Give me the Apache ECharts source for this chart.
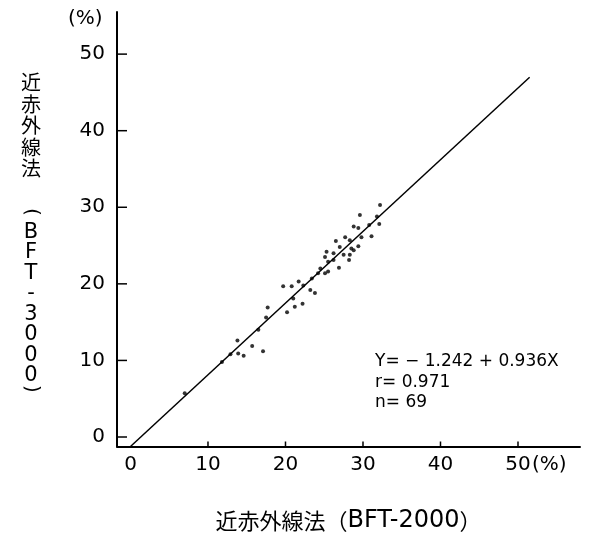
<!DOCTYPE html>
<html>
<head>
<meta charset="utf-8">
<script src="https://cdn.jsdelivr.net/npm/echarts@6.0.0/dist/echarts.min.js"></script>
<style>
  html, body { margin: 0; padding: 0; background: #fff; }
  #chart { width: 592px; height: 536px; }
</style>
</head>
<body>
<div id="chart"></div>
<script>
// tick range
var tickMin = 0;
var tickMax = 50;
var tickStep = 10;
var xTickValues = [10, 20, 30, 40, 50];
var yTickValues = [0, 10, 20, 30, 40, 50];

// BFT-2000 (x) vs BFT-3000 (y)
var bft2000 = [7.0, 11.8, 12.9, 13.8, 13.9, 14.6, 15.7, 17.1, 16.5, 17.5, 17.7, 19.7, 20.8, 21.7, 21.0, 21.2, 20.2, 22.2, 22.3, 23.2, 23.8, 23.4, 24.2, 24.5, 25.1, 25.5, 26.9, 25.5, 26.2, 25.1, 26.2, 25.3, 27.5, 28.3, 28.2, 27.0, 26.5, 28.3, 28.5, 28.8, 29.4, 27.7, 29.8, 31.1, 30.8, 28.8, 29.4, 32.1, 31.8, 29.6, 32.2];
var bft3000 = [5.7, 9.8, 10.8, 12.6, 10.9, 10.6, 11.9, 11.2, 14.0, 15.6, 16.9, 19.7, 19.7, 20.3, 18.1, 17.0, 16.3, 17.4, 19.8, 19.2, 18.8, 20.7, 21.4, 22.0, 21.4, 21.6, 22.1, 22.9, 23.1, 23.5, 24.0, 24.2, 23.8, 23.8, 23.1, 24.8, 25.6, 25.7, 24.6, 24.4, 24.9, 26.1, 26.1, 26.2, 27.7, 27.5, 27.3, 27.8, 28.8, 29.0, 30.3];

// regression line end points
var fitX = [0, 51.5];
var fitY = [-1.24, 46.97];

var points = bft2000.map(function (x, i) { return [x, bft3000[i]]; });
var fitLine = fitX.map(function (x, i) { return [x, fitY[i]]; });

var xMin = -1.74, xMax = 58;
var yMin = -1.24, yMax = 55.5;

var cjk = '"Noto Sans CJK JP"';
var latin = '"DejaVu Sans"';

// inward tick marks, placed through the plot's own scales
function xTick(params, api) {
    var p = api.coord([api.value(0), yMin]);
    return { type: 'line', shape: { x1: p[0], y1: p[1], x2: p[0], y2: p[1] - 5 }, style: { stroke: '#000', lineWidth: 1.5 } };
}
function yTick(params, api) {
    var p = api.coord([xMin, api.value(0)]);
    return { type: 'line', shape: { x1: p[0], y1: p[1], x2: p[0] + 10, y2: p[1] }, style: { stroke: '#000', lineWidth: 1.5 } };
}

// plot box: x from -1.74 to 58, y from -1.24 to 55.5 (7.75 px / 7.66 px per unit)
// the two thin extra grids share that scale and only carry the tick labels
var chart = echarts.init(document.getElementById('chart'));
chart.setOption({
    backgroundColor: '#fff',
    animation: false,
    grid: [
        { left: 117, top: 12, right: 12, bottom: 89.5, containLabel: false, outerBoundsMode: 'none' },
        { left: 130.5, top: 441.5, right: 74, bottom: 89.5, containLabel: false, outerBoundsMode: 'none' },
        { left: 117, top: 54, right: 465, bottom: 99, containLabel: false, outerBoundsMode: 'none' }
    ],
    xAxis: [
        {
            gridIndex: 0,
            type: 'value',
            min: xMin,
            max: xMax,
            splitLine: { show: false },
            axisLine: { onZero: false, lineStyle: { color: '#000', width: 2 } },
            axisTick: { show: false },
            axisLabel: { show: false },
            name: '近赤外線法（{l|BFT-2000}）',
            nameLocation: 'middle',
            nameGap: 62,
            nameTextStyle: {
                color: '#000',
                fontFamily: 'Noto Sans CJK JP',
                fontSize: 22,
                rich: {
                    l: { fontFamily: 'DejaVu Sans', fontSize: 24, color: '#000' }
                }
            }
        },
        {
            gridIndex: 1,
            type: 'value',
            min: tickMin,
            max: tickMax,
            interval: tickStep,
            splitLine: { show: false },
            axisLine: { show: false, onZero: false },
            axisTick: { show: false },
            axisLabel: { margin: 8, color: '#000', fontFamily: 'DejaVu Sans', fontSize: 20 }
        },
        { gridIndex: 2, type: 'value', show: false }
    ],
    yAxis: [
        {
            gridIndex: 0,
            type: 'value',
            min: yMin,
            max: yMax,
            splitLine: { show: false },
            axisLine: { onZero: false, lineStyle: { color: '#000', width: 2 } },
            axisTick: { show: false },
            axisLabel: { show: false }
        },
        { gridIndex: 1, type: 'value', show: false },
        {
            gridIndex: 2,
            type: 'value',
            min: tickMin,
            max: tickMax,
            interval: tickStep,
            splitLine: { show: false },
            axisLine: { show: false, onZero: false },
            axisTick: { show: false },
            axisLabel: { margin: 12, color: '#000', fontFamily: 'DejaVu Sans', fontSize: 20 }
        }
    ],
    graphic: [
        // y axis title, written vertically
        { type: 'text', left: 21, top: 72, style: { text: '近\n赤\n外\n線\n法', fill: '#000', font: '20px ' + cjk, lineHeight: 21.5 } },
        { type: 'text', x: 31, y: 212, rotation: -Math.PI / 2, style: { text: '(', fill: '#000', font: '20px ' + latin, align: 'center', verticalAlign: 'middle' } },
        { type: 'text', x: 31, y: 222, style: { text: 'B\nF\nT\n-\n3\n0\n0\n0', fill: '#000', font: '21px ' + latin, lineHeight: 20.5, align: 'center' } },
        { type: 'text', x: 31, y: 389, rotation: -Math.PI / 2, style: { text: ')', fill: '#000', font: '20px ' + latin, align: 'center', verticalAlign: 'middle' } },
        // units
        { type: 'text', left: 68, top: 9, style: { text: '(%)', fill: '#000', font: '20px ' + latin } },
        { type: 'text', left: 532, top: 455, style: { text: '(%)', fill: '#000', font: '20px ' + latin } },
        // regression statistics
        { type: 'text', left: 375, top: 353, style: { text: 'Y= − 1.242 + 0.936X', fill: '#000', font: '17px ' + latin } },
        { type: 'text', left: 375, top: 374, style: { text: 'r= 0.971', fill: '#000', font: '17px ' + latin } },
        { type: 'text', left: 375, top: 394, style: { text: 'n= 69', fill: '#000', font: '17px ' + latin } }
    ],
    series: [
        {
            type: 'custom',
            xAxisIndex: 0,
            yAxisIndex: 0,
            data: xTickValues.map(function (v) { return [v]; }),
            renderItem: xTick,
            clip: false,
            silent: true,
            z: 4
        },
        {
            type: 'custom',
            xAxisIndex: 0,
            yAxisIndex: 0,
            data: yTickValues.map(function (v) { return [v]; }),
            renderItem: yTick,
            clip: false,
            silent: true,
            z: 4
        },
        {
            type: 'line',
            xAxisIndex: 0,
            yAxisIndex: 0,
            data: fitLine,
            symbol: 'none',
            lineStyle: { color: '#000', width: 1.5 },
            z: 2
        },
        {
            type: 'scatter',
            xAxisIndex: 0,
            yAxisIndex: 0,
            data: points,
            symbolSize: 4,
            itemStyle: { color: '#000' },
            z: 3
        }
    ]
});
</script>
</body>
</html>
